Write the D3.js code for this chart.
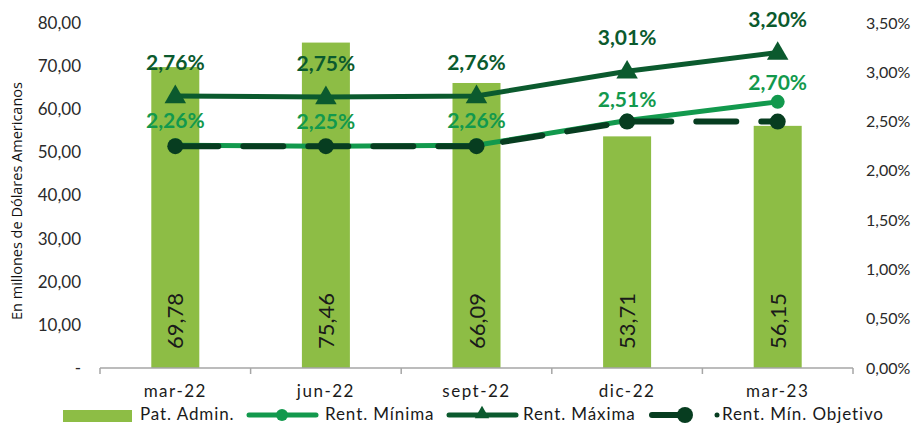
<!DOCTYPE html>
<html>
<head>
<meta charset="utf-8">
<script src="https://cdn.jsdelivr.net/npm/d3@7"></script>
<style>
  body { margin: 0; background: #fff; }
  svg { font-family: Lato, "Open Sans", sans-serif; }
</style>
</head>
<body>
<div class="canvas"></div>
<script>
const categories = ['mar-22', 'jun-22', 'sept-22', 'dic-22', 'mar-23']
const patAdmin = [69.78, 75.46, 66.09, 53.71, 56.15]
const rentMinima = [2.26, 2.25, 2.26, 2.51, 2.70]
const rentMaxima = [2.76, 2.75, 2.76, 3.01, 3.20]
const rentObjetivo = [2.25, 2.25, 2.25, 2.50, 2.50]
const leftTicks = [0, 10, 20, 30, 40, 50, 60, 70, 80]
const rightTicks = [0, 0.5, 1, 1.5, 2, 2.5, 3, 3.5]

const barColour = '#8dbd45'
const minColour = '#12994d'
const maxColour = '#0b5a2e'
const objColour = '#073d20'

const margin = {top: 23, right: 59, bottom: 57, left: 100}
const width = 912, height = 425
const graphWidth = width - margin.left - margin.right
const graphHeight = height - margin.top - margin.bottom

const svg = d3.select('.canvas')
  .append('svg')
  .attr('width', width)
  .attr('height', height)

const graph = svg.append('g')
  .attr('transform', `translate(${margin.left}, ${margin.top})`)

const x = d3.scaleBand().domain(categories).range([0, graphWidth]).paddingInner(0).paddingOuter(0)
const y = d3.scaleLinear().domain([0, 80]).range([graphHeight, 0])
const y2 = d3.scaleLinear().domain([0, 3.5]).range([graphHeight, 0])
const cx = d => x(d) + x.bandwidth() / 2
const fmt = v => v.toFixed(2).replace('.', ',')

// left axis
graph.append('g')
  .call(d3.axisLeft(y).tickValues(leftTicks).tickSize(0).tickPadding(19).tickFormat(d => d === 0 ? '-' : fmt(d)))
  .call(g => g.select('.domain').remove())
  .selectAll('text')
  .attr('font-size', 17).attr('fill', '#2a2a2a').attr('font-family', 'Lato')

// right axis
graph.append('g')
  .attr('transform', `translate(${graphWidth}, 0)`)
  .call(d3.axisRight(y2).tickValues(rightTicks).tickSize(0).tickPadding(13).tickFormat(d => fmt(d) + '%'))
  .call(g => g.select('.domain').remove())
  .selectAll('text')
  .attr('font-size', 16).attr('fill', '#2a2a2a').attr('font-family', 'Lato')

// y title
svg.append('text')
  .attr('transform', `translate(22, 201) rotate(-90)`)
  .attr('text-anchor', 'middle')
  .attr('font-family', '"Open Sans"')
  .attr('font-size', 14.5)
  .attr('fill', '#111')
  .text('En millones de Dólares Americanos')

// bars
const bw = 48
graph.selectAll('rect.bar')
  .data(patAdmin)
  .enter()
  .append('rect')
  .attr('class', 'bar')
  .attr('x', (d, i) => cx(categories[i]) - bw / 2)
  .attr('y', d => y(d))
  .attr('width', bw)
  .attr('height', d => graphHeight - y(d))
  .attr('fill', barColour)

graph.selectAll('text.barlabel')
  .data(patAdmin)
  .enter()
  .append('text')
  .attr('class', 'barlabel')
  .attr('transform', (d, i) => `translate(${cx(categories[i]) + 8}, ${graphHeight - 47}) rotate(-90)`)
  .attr('text-anchor', 'middle')
  .attr('font-size', 22)
  .attr('fill', '#1a1a1a')
  .text(d => fmt(d))

// x axis
const xAxis = graph.append('g')
  .attr('transform', `translate(0, ${graphHeight})`)
xAxis.append('line')
  .attr('x1', 0).attr('x2', graphWidth)
  .attr('stroke', '#a6a6a6').attr('stroke-width', 1.5)
d3.range(categories.length + 1).forEach(i => {
  const xp = i * x.step()
  xAxis.append('line')
    .attr('x1', xp).attr('x2', xp).attr('y1', 0).attr('y2', 6)
    .attr('stroke', '#a6a6a6').attr('stroke-width', 1.5)
})
xAxis.selectAll('text')
  .data(categories)
  .enter()
  .append('text')
  .attr('x', d => cx(d))
  .attr('y', 29)
  .attr('text-anchor', 'middle')
  .attr('font-size', 17)
  .attr('letter-spacing', 1.5)
  .attr('fill', '#1a1a1a')
  .text(d => d)

const line = d3.line()
  .x((d, i) => cx(categories[i]))
  .y(d => y2(d))

// rent maxima
graph.append('path')
  .datum(rentMaxima)
  .attr('d', line)
  .attr('fill', 'none')
  .attr('stroke', maxColour)
  .attr('stroke-width', 5)
graph.selectAll('path.tri')
  .data(rentMaxima)
  .enter()
  .append('path')
  .attr('class', 'tri')
  .attr('d', d3.symbol(d3.symbolTriangle, 200))
  .attr('transform', (d, i) => `translate(${cx(categories[i])}, ${y2(d) + 1})`)
  .attr('fill', maxColour)

// rent minima
graph.append('path')
  .datum(rentMinima)
  .attr('d', line)
  .attr('fill', 'none')
  .attr('stroke', minColour)
  .attr('stroke-width', 5)
graph.selectAll('circle.min')
  .data(rentMinima)
  .enter()
  .append('circle')
  .attr('class', 'min')
  .attr('cx', (d, i) => cx(categories[i]))
  .attr('cy', d => y2(d))
  .attr('r', 7)
  .attr('fill', minColour)

// rent min objetivo
graph.append('path')
  .datum(rentObjetivo)
  .attr('d', line)
  .attr('fill', 'none')
  .attr('stroke', objColour)
  .attr('stroke-width', 6)
  .attr('stroke-dasharray', '40 25')
  .attr('stroke-dashoffset', -3)
  .attr('stroke-linecap', 'round')
graph.selectAll('circle.obj')
  .data(rentObjetivo)
  .enter()
  .append('circle')
  .attr('class', 'obj')
  .attr('cx', (d, i) => cx(categories[i]))
  .attr('cy', d => y2(d))
  .attr('r', 8)
  .attr('fill', objColour)

// labels
const minOffset = [24, 24, 24, 21, 19]
graph.selectAll('text.minlab')
  .data(rentMinima)
  .enter()
  .append('text')
  .attr('class', 'minlab')
  .attr('x', (d, i) => cx(categories[i]))
  .attr('y', (d, i) => y2(d) - minOffset[i] + 7)
  .attr('text-anchor', 'middle')
  .attr('font-size', 21)
  .attr('font-weight', 'bold')
  .attr('fill', minColour)
  .text(d => fmt(d) + '%')

graph.selectAll('text.maxlab')
  .data(rentMaxima)
  .enter()
  .append('text')
  .attr('class', 'maxlab')
  .attr('x', (d, i) => cx(categories[i]))
  .attr('y', d => y2(d) - 33 + 7)
  .attr('text-anchor', 'middle')
  .attr('font-size', 21)
  .attr('font-weight', 'bold')
  .attr('fill', maxColour)
  .text(d => fmt(d) + '%')

// legend
const legend = svg.append('g').attr('transform', 'translate(0, 415)')
const legText = (xp, t) => legend.append('text')
  .attr('x', xp).attr('y', 5)
  .attr('font-size', 17).attr('letter-spacing', 0.9).attr('fill', '#1a1a1a')
  .text(t)

legend.append('rect').attr('x', 63).attr('y', -5).attr('width', 69).attr('height', 12).attr('fill', barColour)
legText(140, 'Pat. Admin.')

legend.append('line').attr('x1', 249).attr('x2', 316).attr('stroke', minColour).attr('stroke-width', 5).attr('stroke-linecap', 'round')
legend.append('circle').attr('cx', 282).attr('r', 6).attr('fill', minColour)
legText(325, 'Rent. Mínima')

legend.append('line').attr('x1', 449).attr('x2', 516).attr('stroke', maxColour).attr('stroke-width', 5).attr('stroke-linecap', 'round')
legend.append('path').attr('d', d3.symbol(d3.symbolTriangle, 90)).attr('transform', 'translate(482, -1)').attr('fill', maxColour)
legText(523, 'Rent. Máxima')

legend.append('line').attr('x1', 652).attr('x2', 684).attr('stroke', objColour).attr('stroke-width', 6).attr('stroke-linecap', 'round')
legend.append('circle').attr('cx', 685).attr('r', 8).attr('fill', objColour)
legend.append('circle').attr('cx', 717).attr('r', 2.5).attr('fill', objColour)
legText(722, 'Rent. Mín. Objetivo')
</script>
</body>
</html>
